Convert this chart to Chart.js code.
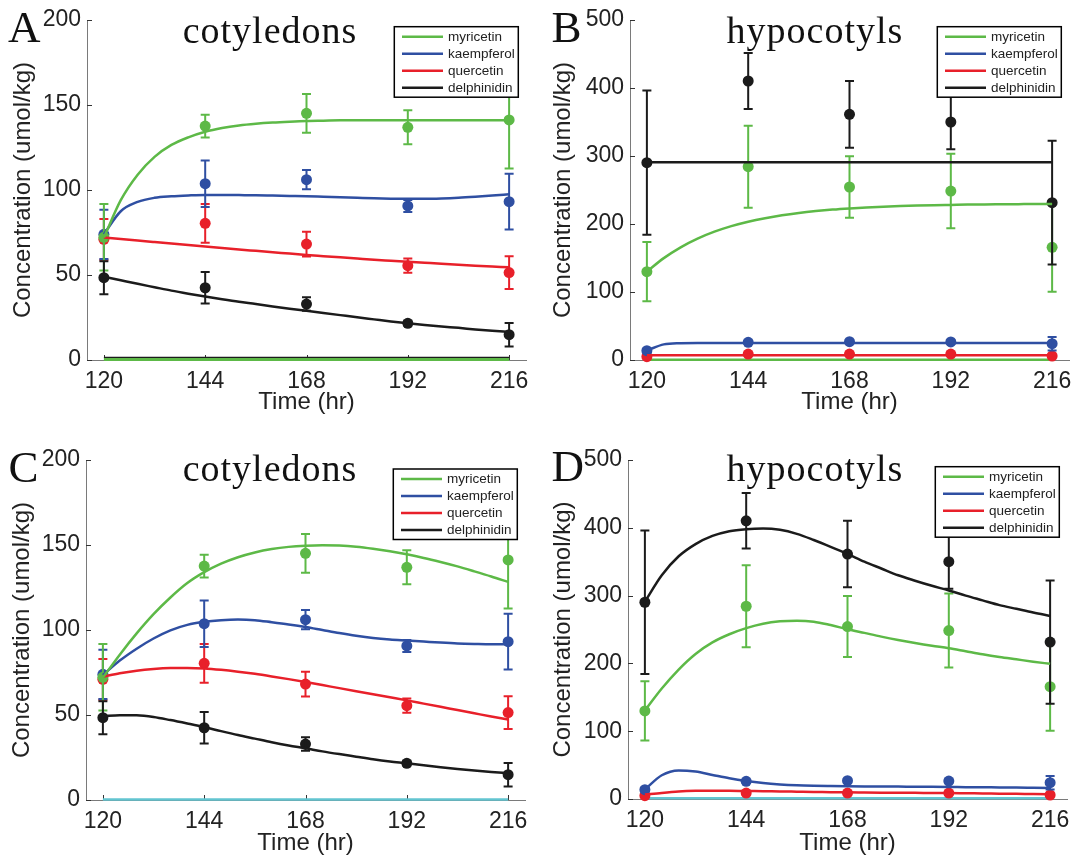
<!DOCTYPE html>
<html>
<head>
<meta charset="utf-8">
<title>flavonoid time course</title>
<script src="https://cdn.jsdelivr.net/npm/chart.js@4.4.1/dist/chart.umd.min.js"></script>
<style>
  html, body { margin: 0; padding: 0; background: #fff; }
  #fig { position: relative; width: 1071px; height: 858px; overflow: hidden; background: #fff; }
  #fig canvas { position: absolute; }
</style>
</head>
<body>
<div id="fig">
  <canvas id="panelA" width="546" height="420" style="left:0px;top:0px"></canvas>
  <canvas id="panelB" width="554" height="420" style="left:535px;top:0px"></canvas>
  <canvas id="panelC" width="545" height="438" style="left:0px;top:420px"></canvas>
  <canvas id="panelD" width="552" height="438" style="left:535px;top:420px"></canvas>
</div>
<script>
// sampling times + tick labels
const hours = [120, 144, 168, 192, 216];
const xTicks = [120, 144, 168, 192, 216];
const tFit = [120, 124, 128, 132, 136, 140, 144, 148, 152, 156, 160, 164, 168,
  172, 176, 180, 184, 188, 192, 196, 200, 204, 208, 212, 216];
const names = ['myricetin', 'kaempferol', 'quercetin', 'delphinidin'];
const colors = ['#5db947', '#2f4fa2', '#e8202a', '#1b1b1b'];
const cyan = '#62c5d1';

// cotyledons, measured mean / sd
const cotMyr = [72.2, 137.6, 145.1, 136.9, 141.2];
const cotMyrSd = [19.5, 6.7, 11.4, 10.0, 28.5];
const cotKae = [73.9, 103.7, 106.1, 90.6, 93.1];
const cotKaeSd = [14.5, 13.7, 5.6, 3.5, 16.4];
const cotQue = [71.0, 80.4, 68.2, 55.5, 51.4];
const cotQueSd = [12.0, 11.4, 7.3, 4.2, 9.6];
const cotDel = [48.4, 42.5, 32.9, 21.6, 14.9];
const cotDelSd = [9.7, 9.2, 4.0, 1.5, 6.9];

// hypocotyls, measured mean / sd
const hypMyr = [129.9, 284.3, 254.4, 248.5, 165.7];
const hypMyrSd = [43.6, 60.3, 45.1, 54.7, 65.2];
const hypKae = [13.7, 26.0, 27.0, 26.5, 24.0];
const hypKaeSd = [3.0, 2.5, 2.5, 2.5, 10.0];
const hypQue = [4.9, 8.8, 8.8, 8.8, 5.9];
const hypQueSd = [2.0, 2.0, 2.0, 2.0, 2.0];
const hypDel = [290.2, 410.3, 361.3, 350.0, 231.4];
const hypDelSd = [106, 41, 49, 40, 91];

// model fits, panel A
const fitAMyr = [72, 94, 109, 119.5, 126.5, 131, 134.3, 136.5, 138, 139, 139.7, 140.2, 140.6,
  140.8, 141, 141, 141, 141, 141, 141, 141, 141, 141, 141, 141];
const fitAKae = [74, 87.5, 93, 95.4, 96.3, 96.8, 97.1, 97.1, 97, 96.9, 96.7, 96.5, 96.3,
  96, 95.7, 95.4, 95.1, 94.9, 94.8, 94.8, 95, 95.4, 96, 96.7, 97.5];
const fitAQue = [72, 71.2, 70.3, 69.4, 68.5, 67.6, 66.7, 65.9, 65, 64.2, 63.4, 62.6, 61.8,
  61.1, 60.4, 59.7, 59, 58.4, 57.8, 57.2, 56.6, 56.1, 55.5, 55, 54.5];
const fitADel = [49, 46.9, 44.8, 42.8, 40.8, 39, 37.3, 35.7, 34.2, 32.9, 31.5, 30.2, 29,
  27.7, 26.4, 25.1, 23.9, 22.7, 21.6, 20.6, 19.7, 18.9, 18, 17.2, 16.5];

// model fits, panel B
const fitBMyr = [130, 149.8, 165.7, 178.5, 188.7, 196.9, 203.4, 208.6, 212.9, 216.3, 219, 221.2, 222.9,
  224.3, 225.5, 226.4, 227.1, 227.7, 228.1, 228.5, 228.8, 229, 229.2, 229.4, 229.5];
const fitBKae = [14, 23, 24.7, 25, 25, 25, 25, 25, 25, 25, 25, 25, 25,
  25, 25, 25, 25, 25, 25, 25, 25, 25, 25, 25, 25];
const fitBQue = [7, 7, 7, 7, 7, 7, 7, 7, 7, 7, 7, 7, 7, 7, 7, 7, 7, 7, 7, 7, 7, 7, 7, 7, 7];
const fitBDel = [290.7, 290.7, 290.7, 290.7, 290.7, 290.7, 290.7, 290.7, 290.7, 290.7, 290.7, 290.7, 290.7,
  290.7, 290.7, 290.7, 290.7, 290.7, 290.7, 290.7, 290.7, 290.7, 290.7, 290.7, 290.7];

// model fits, panel C
const fitCMyr = [72, 85.5, 98, 109.3, 119.1, 127.6, 134, 139, 142.8, 145.6, 147.6, 148.9, 149.6,
  149.9, 149.7, 149, 147.8, 146.3, 144.5, 142.4, 140, 137.4, 134.5, 131.5, 128.3];
const fitCKae = [73.5, 82, 89, 95, 99.8, 103, 104.8, 105.8, 106.2, 105.8, 104.6, 103.3, 101.8,
  100, 98.2, 96.6, 95.3, 94.4, 93.8, 93.2, 92.6, 92.1, 91.8, 91.6, 91.6];
const fitCQue = [72.5, 74.5, 76, 77, 77.6, 77.7, 77.4, 76.6, 75.5, 74.2, 72.7, 71.1, 69.4,
  67.6, 65.8, 64, 62.2, 60.4, 58.6, 56.7, 54.8, 52.9, 51, 49.1, 47.3];
const fitCDel = [49.4, 49.9, 49.8, 48.8, 47, 45, 42.9, 40.5, 38.2, 36.1, 34, 32.1, 30.4,
  28.6, 27, 25.5, 24, 22.7, 21.6, 20.4, 19.3, 18.3, 17.4, 16.5, 15.7];

// model fits, panel D
const fitDMyr = [130.6, 163, 191, 214, 231, 243, 252, 258.5, 262, 263, 261.5, 256.5, 250.5,
  245, 239.5, 234.5, 230, 226, 222.5, 218, 213.5, 209.5, 206, 202.5, 199.4];
const fitDKae = [14, 35, 42.2, 40.5, 35.5, 30.5, 26.5, 23.5, 21.5, 20.2, 19.5, 19.1, 18.8,
  18.6, 18.5, 18.3, 18.1, 17.9, 17.7, 17.5, 17.3, 17, 16.8, 16.5, 16.2];
const fitDQue = [6.5, 9, 11, 12, 12.3, 12.2, 11.8, 11.5, 11.1, 10.8, 10.5, 10.1, 9.8,
  9.6, 9.4, 9.2, 9.1, 8.9, 8.8, 8.5, 8.2, 7.9, 7.6, 7.3, 7];
const fitDDel = [291, 330, 358, 376, 388, 395, 398, 399, 397, 391, 382, 372, 361.5,
  350, 340, 330, 322, 314.5, 307.5, 300, 293, 286, 280.5, 275, 270];

// species sitting on zero (not in legend)
const zeroA1 = [1.6, 1.6, 1.6, 1.6, 1.6];
const zeroA2 = [0.3, 0.3, 0.3, 0.3, 0.3];
const zeroB = [0.3, 0.3, 0.3, 0.3, 0.3];
const zeroC = [0.3, 0.3, 0.3, 0.3, 0.3];
const zeroD = [1.2, 1.2, 1.2, 1.2, 1.2];

Chart.defaults.font.family = '"Liberation Sans", Arial, Helvetica, sans-serif';
Chart.defaults.color = '#222';

const serif = '"Liberation Serif", "Times New Roman", serif';
const pts = (xs, ys) => xs.map((x, i) => ({ x, y: ys[i] }));

// ticks, errorbars, titles, legend
const deco = {
  id: 'deco',
  beforeDatasetsDraw(chart) {
    const { ctx, chartArea: ca, scales: { x, y } } = chart;
    ctx.save();
    ctx.strokeStyle = '#333';
    ctx.lineWidth = 1;
    ctx.beginPath();
    y.ticks.forEach(t => {
      let py = Math.round(y.getPixelForValue(t.value)) + 0.5;
      ctx.moveTo(ca.left, py); ctx.lineTo(ca.left + 5, py);
    });
    x.ticks.forEach(t => {
      let px = Math.round(x.getPixelForValue(t.value)) + 0.5;
      ctx.moveTo(px, ca.bottom); ctx.lineTo(px, ca.bottom - 5);
    });
    ctx.stroke();
    ctx.restore();
  },
  afterDatasetDraw(chart, args) {
    const ds = chart.data.datasets[args.index];
    if (!ds.errors) return;
    const { ctx, scales: { x, y } } = chart;
    ctx.save();
    ctx.strokeStyle = ds.borderColor;
    ctx.lineWidth = 2;
    ds.data.forEach((p, i) => {
      let e = ds.errors[i];
      let px = x.getPixelForValue(p.x);
      let hi = y.getPixelForValue(p.y + e), lo = y.getPixelForValue(p.y - e);
      ctx.beginPath();
      ctx.moveTo(px, hi); ctx.lineTo(px, lo);
      ctx.moveTo(px - 4.5, hi); ctx.lineTo(px + 4.5, hi);
      ctx.moveTo(px - 4.5, lo); ctx.lineTo(px + 4.5, lo);
      ctx.stroke();
    });
    ctx.restore();
  },
  afterDraw(chart, args, o) {
    const { ctx, chartArea: ca } = chart;
    ctx.save();
    // panel letter + title
    ctx.fillStyle = '#111';
    ctx.textBaseline = 'alphabetic';
    ctx.textAlign = 'left';
    ctx.font = '45px ' + serif;
    ctx.fillText(o.letter, o.letterX, o.letterY);
    ctx.textAlign = 'center';
    ctx.font = '38px ' + serif;
    ctx.letterSpacing = '1px';
    ctx.fillText(o.title, o.titleX, o.titleY);
    ctx.letterSpacing = '0px';

    // legend box
    let w = 124, h = 70.5;
    let bx = ca.right - 7.7 - w, by = ca.top + o.legendTop;
    ctx.fillStyle = '#fff';
    ctx.fillRect(bx, by, w, h);
    ctx.strokeStyle = '#000';
    ctx.lineWidth = 1.5;
    ctx.strokeRect(bx, by, w, h);
    ctx.font = '13.5px "Liberation Sans", Arial, sans-serif';
    ctx.textAlign = 'left';
    ctx.textBaseline = 'middle';
    names.forEach((n, i) => {
      let ry = by + 10 + i * 17;
      ctx.strokeStyle = colors[i];
      ctx.lineWidth = 2.5;
      ctx.beginPath();
      ctx.moveTo(bx + 7.7, ry); ctx.lineTo(bx + 48.7, ry);
      ctx.stroke();
      ctx.fillStyle = '#222';
      ctx.fillText(n, bx + 53.7, ry + 0.5);
    });
    ctx.restore();
  }
};

function fitLine(ys, color, z) {
  return {
    data: pts(tFit, ys), showLine: true, borderColor: color, borderWidth: 2.5,
    pointRadius: 0, cubicInterpolationMode: 'monotone', fill: false, order: z
  };
}

function dots(ys, sd, color, z) {
  return {
    data: pts(hours, ys), showLine: false, errors: sd, borderColor: color,
    backgroundColor: color, pointRadius: 5.5, pointBorderWidth: 0, clip: false, order: z
  };
}

function flat(ys, color, bw, z) {
  return {
    data: pts(hours, ys), showLine: true, borderColor: color, borderWidth: bw,
    pointRadius: 0, fill: false, clip: false, order: z
  };
}

function makePanel(p) {
  const [myr, kae, que, del] = p.fits;
  const datasets = [
    fitLine(del, colors[3], 0), fitLine(myr, colors[0], 1),
    fitLine(kae, colors[1], 2), fitLine(que, colors[2], 3),
    dots(p.means[3], p.sds[3], colors[3], 4), dots(p.means[0], p.sds[0], colors[0], 5),
    dots(p.means[1], p.sds[1], colors[1], 6), dots(p.means[2], p.sds[2], colors[2], 7)
  ].concat(p.zeros.map((z, i) => flat(z.data, z.color, z.width, 8 + i)));

  return new Chart(document.getElementById(p.id), {
    type: 'scatter',
    data: { datasets },
    options: {
      responsive: false,
      animation: false,
      events: [],
      layout: { padding: { left: 0, top: p.top, right: 20, bottom: 0 } },
      plugins: {
        legend: { display: false },
        tooltip: { enabled: false },
        deco: p.deco
      },
      scales: {
        x: {
          type: 'linear', min: 116, max: 220,
          afterBuildTicks: s => { s.ticks = xTicks.map(v => ({ value: v })); },
          afterFit: s => { s.height = p.xHeight; },
          grid: { display: false, drawTicks: false },
          border: { display: true, color: '#7a7a7a', width: 1 },
          ticks: { font: { size: 23 }, padding: 8, maxRotation: 0, autoSkip: false, color: '#222' },
          title: { display: true, text: 'Time (hr)', font: { size: 24 }, color: '#222',
            padding: { top: 0, bottom: p.xTitlePad } }
        },
        y: {
          type: 'linear', min: 0, max: p.yMax,
          afterFit: s => { s.width = p.yWidth; },
          grid: { display: false, drawTicks: false },
          border: { display: true, color: '#7a7a7a', width: 1 },
          ticks: { stepSize: p.yStep, font: { size: 23 }, padding: 6, color: '#222' },
          title: { display: true, text: 'Concentration (umol/kg)', font: { size: 24 }, color: '#222',
            padding: { top: p.yTitlePad, bottom: 0 } }
        }
      }
    },
    plugins: [deco]
  });
}

makePanel({
  id: 'panelA', yMax: 200, yStep: 50, top: 20, yWidth: 87, xHeight: 60, xTitlePad: 3, yTitlePad: 8.5,
  means: [cotMyr, cotKae, cotQue, cotDel], sds: [cotMyrSd, cotKaeSd, cotQueSd, cotDelSd],
  fits: [fitAMyr, fitAKae, fitAQue, fitADel],
  zeros: [{ data: zeroA1, color: colors[3], width: 1.3 }, { data: zeroA2, color: colors[0], width: 3 }],
  deco: { letter: 'A', letterX: 8, letterY: 42.3, title: 'cotyledons', titleX: 270, titleY: 42.7, legendTop: 6.7 }
});

makePanel({
  id: 'panelB', yMax: 500, yStep: 100, top: 20, yWidth: 95, xHeight: 60, xTitlePad: 3, yTitlePad: 14.2,
  means: [hypMyr, hypKae, hypQue, hypDel], sds: [hypMyrSd, hypKaeSd, hypQueSd, hypDelSd],
  fits: [fitBMyr, fitBKae, fitBQue, fitBDel],
  zeros: [{ data: zeroB, color: colors[0], width: 2.5 }],
  deco: { letter: 'B', letterX: 16.4, letterY: 42.3, title: 'hypocotyls', titleX: 280, titleY: 42.7, legendTop: 6.7 }
});

makePanel({
  id: 'panelC', yMax: 200, yStep: 50, top: 40, yWidth: 86, xHeight: 58, xTitlePad: 0, yTitlePad: 8,
  means: [cotMyr, cotKae, cotQue, cotDel], sds: [cotMyrSd, cotKaeSd, cotQueSd, cotDelSd],
  fits: [fitCMyr, fitCKae, fitCQue, fitCDel],
  zeros: [{ data: zeroC, color: cyan, width: 2.5 }],
  deco: { letter: 'C', letterX: 8.5, letterY: 61.7, title: 'cotyledons', titleX: 270, titleY: 61, legendTop: 9 }
});

makePanel({
  id: 'panelD', yMax: 500, yStep: 100, top: 40, yWidth: 93, xHeight: 59, xTitlePad: 0, yTitlePad: 14.2,
  means: [hypMyr, hypKae, hypQue, hypDel], sds: [hypMyrSd, hypKaeSd, hypQueSd, hypDelSd],
  fits: [fitDMyr, fitDKae, fitDQue, fitDDel],
  zeros: [{ data: zeroD, color: cyan, width: 2.5 }],
  deco: { letter: 'D', letterX: 16.5, letterY: 61, title: 'hypocotyls', titleX: 280, titleY: 61, legendTop: 6.7 }
});
</script>
</body>
</html>
